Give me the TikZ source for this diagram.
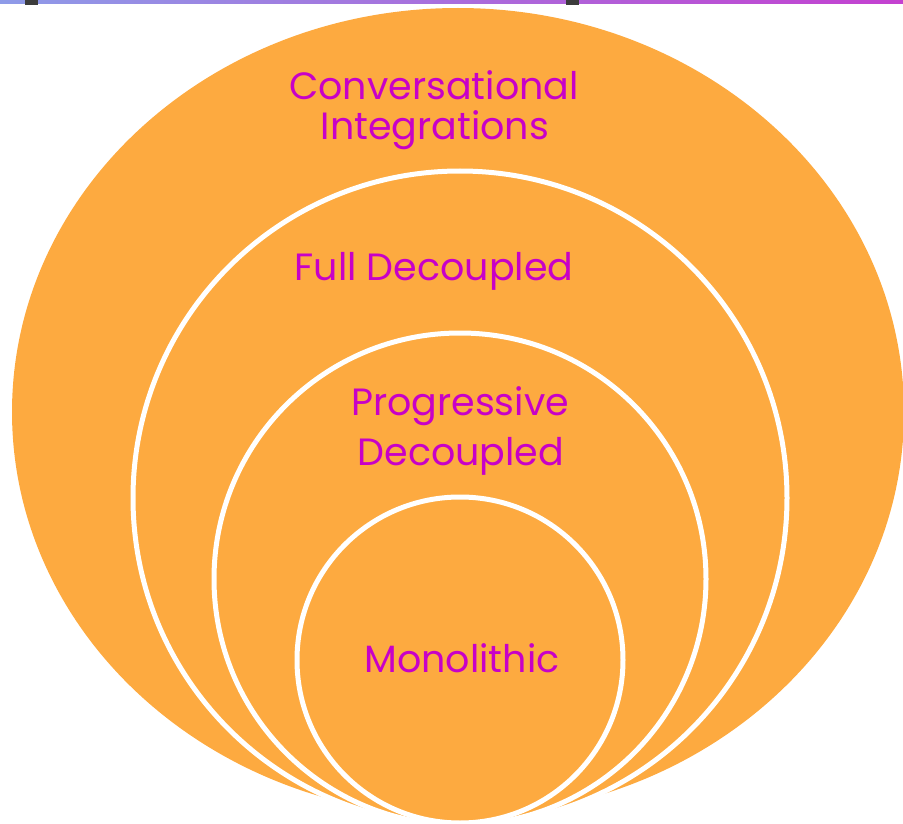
\documentclass[tikz,border=0pt]{standalone}
\usepackage{fontspec}
\setmainfont{Poppins}
\usetikzlibrary{shapes.geometric}
\definecolor{ringfill}{RGB}{253,170,64}
\definecolor{labeltext}{RGB}{200,0,200}
\definecolor{barleft}{RGB}{142,155,232}
\definecolor{barright}{RGB}{196,64,208}
\definecolor{markgray}{RGB}{60,60,60}
\tikzset{
  ring/.style={circle,fill=ringfill,draw=white,line width=5pt,inner sep=0pt},
  lbl/.style={text=labeltext,font=\fontsize{38}{41}\selectfont,anchor=base,inner sep=0pt}
}
\begin{document}
\begin{tikzpicture}[x=1pt,y=-1pt]
                \useasboundingbox (0,0) rectangle (903,824);
                \shade[left color=barleft,right color=barright] (0,0) rectangle (903,4);
                \fill[markgray] (25,0) rectangle (38,5);
                \fill[markgray] (566,0) rectangle (579,5);
                \node[ellipse,fill=ringfill,minimum width=892pt,minimum height=808pt,inner sep=0pt] (A) at (458,412) {};
                \node[ring,minimum size=654pt] (B) at (460,498) {};
                \node[ring,minimum size=492pt] (C) at (460,579) {};
                \node[ring,minimum size=326pt] (D) at (460,660) {};
                \node[lbl] (E) at (434,100) {Conversational};
                \node[lbl] (F) at (435,140) {Integrations};
                \node[lbl] (G) at (434,280) {Full Decoupled};
                \node[lbl] (H) at (460,415) {Progressive};
                \node[lbl] (I) at (461,465) {Decoupled};
                \node[lbl] (J) at (462,672) {Monolithic};
            \end{tikzpicture}
\end{document}
